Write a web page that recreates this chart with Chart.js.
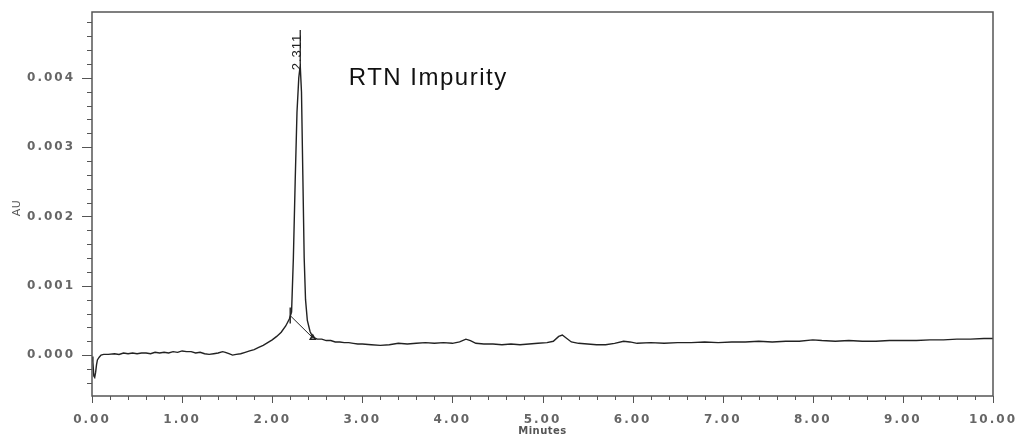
<!DOCTYPE html>
<html>
<head>
<meta charset="utf-8">
<title>RTN Impurity</title>
<script src="https://cdn.jsdelivr.net/npm/chart.js@4/dist/chart.umd.min.js"></script>
<style>
    html, body { margin: 0; padding: 0; background: #ffffff; }
    #wrap { width: 1018px; height: 438px; position: relative; }
</style>
</head>
<body>
<div id="wrap"><canvas id="myChart"></canvas></div>
<script>
const times = [
    0.00, 0.01, 0.02, 0.03, 0.04, 0.05, 0.06, 0.08, 0.10, 0.13, 0.18, 0.25, 0.30, 0.35, 0.40, 0.45,
    0.50, 0.55, 0.60, 0.65, 0.70, 0.75, 0.80, 0.85, 0.90, 0.95, 1.00, 1.05, 1.10, 1.15, 1.20, 1.25,
    1.30, 1.35, 1.40, 1.45, 1.48, 1.52, 1.56, 1.60, 1.65, 1.70, 1.75, 1.80, 1.85, 1.90, 1.95, 2.00,
    2.05, 2.10, 2.15, 2.19, 2.215, 2.235, 2.255, 2.275, 2.295, 2.311, 2.325, 2.34, 2.355, 2.37, 2.39, 2.42,
    2.45, 2.50, 2.55, 2.60, 2.65, 2.70, 2.75, 2.80, 2.85, 2.90, 2.95, 3.00, 3.10, 3.20, 3.30, 3.40,
    3.50, 3.60, 3.70, 3.80, 3.90, 4.00, 4.08, 4.15, 4.20, 4.26, 4.35, 4.45, 4.55, 4.65, 4.75, 4.85,
    4.95, 5.05, 5.12, 5.18, 5.22, 5.27, 5.32, 5.40, 5.50, 5.60, 5.70, 5.80, 5.90, 5.97, 6.05, 6.20,
    6.35, 6.50, 6.65, 6.80, 6.95, 7.10, 7.25, 7.40, 7.55, 7.70, 7.85, 8.00, 8.10, 8.25, 8.40, 8.55,
    8.70, 8.85, 9.00, 9.15, 9.30, 9.45, 9.60, 9.75, 9.90, 10.00
];
const au = [
    -0.00002, -0.00010, -0.00030, -0.00032, -0.00025, -0.00014, -0.00007, -0.00003, 0.00000, 0.00001, 0.00001, 0.00002, 0.00001, 0.00003, 0.00002, 0.00003,
    0.00002, 0.00003, 0.00003, 0.00002, 0.00004, 0.00003, 0.00004, 0.00003, 0.00005, 0.00004, 0.00006, 0.00005, 0.00005, 0.00003, 0.00004, 0.00002,
    0.00001, 0.00002, 0.00003, 0.00005, 0.00004, 0.00002, 0.00000, 0.00001, 0.00002, 0.00004, 0.00006, 0.00008, 0.00011, 0.00014, 0.00018, 0.00022,
    0.00027, 0.00033, 0.00042, 0.00052, 0.00062, 0.00140, 0.00250, 0.00350, 0.00400, 0.00418, 0.00380, 0.00260, 0.00140, 0.00080, 0.00050, 0.00034,
    0.00026, 0.00023, 0.00023, 0.00021, 0.00021, 0.00019, 0.00019, 0.00018, 0.00018, 0.00017, 0.00016, 0.00016, 0.00015, 0.00014, 0.00015, 0.00017,
    0.00016, 0.00017, 0.00018, 0.00017, 0.00018, 0.00017, 0.00019, 0.00023, 0.00021, 0.00017, 0.00016, 0.00016, 0.00015, 0.00016, 0.00015, 0.00016,
    0.00017, 0.00018, 0.00020, 0.00027, 0.00029, 0.00024, 0.00019, 0.00017, 0.00016, 0.00015, 0.00015, 0.00017, 0.00020, 0.00019, 0.00017, 0.00018,
    0.00017, 0.00018, 0.00018, 0.00019, 0.00018, 0.00019, 0.00019, 0.00020, 0.00019, 0.00020, 0.00020, 0.00022, 0.00021, 0.00020, 0.00021, 0.00020,
    0.00020, 0.00021, 0.00021, 0.00021, 0.00022, 0.00022, 0.00023, 0.00023, 0.00024, 0.00024
];

// Базовая линия пика (начало и конец интегрирования)
const baseTimes = [2.20, 2.45];
const baseAu = [0.00057, 0.00025];

// Пик и подписи
const peakTime = 2.311;
const peakAu = 0.00418;
const peakLabel = '2.311';
const compoundLabel = 'RTN Impurity';
const xTitle = 'Minutes';
const yTitle = 'AU';

// Подписи осей
const xTickValues = [0, 1, 2, 3, 4, 5, 6, 7, 8, 9, 10];
const yTickValues = [0, 0.001, 0.002, 0.003, 0.004];
const xMin = 0, xMax = 10;
const yMin = -0.00059, yMax = 0.00495;

// Рамка, засечки осей и подписи
const framePlugin = {
    id: 'frame',
    beforeDraw(chart) {
        chart.ctx.letterSpacing = '2px';
    },
    afterDraw(chart) {
        const ctx = chart.ctx;
        const area = chart.chartArea;
        const xs = chart.scales.x;
        const ys = chart.scales.y;
        ctx.save();
        ctx.letterSpacing = '0px';
        ctx.strokeStyle = '#555';
        ctx.lineWidth = 1;
        ctx.beginPath();
        // засечки по Y (наружу, влево)
        for (let i = -2; i <= 24; i++) {
            const v = i * 0.0002;
            if (v < yMin || v > yMax) continue;
            const py = Math.round(ys.getPixelForValue(v)) + 0.5;
            const len = (i % 5 === 0) ? 10 : 5;
            ctx.moveTo(area.left - len, py);
            ctx.lineTo(area.left, py);
        }
        // засечки по X (наружу, вниз)
        for (let i = 0; i <= 50; i++) {
            const px = Math.round(xs.getPixelForValue(i * 0.2)) + 0.5;
            const len = (i % 5 === 0) ? 7 : 4;
            ctx.moveTo(px, area.bottom);
            ctx.lineTo(px, area.bottom + len);
        }
        ctx.stroke();
        ctx.lineWidth = 1.5;
        ctx.strokeRect(area.left, area.top, area.right - area.left, area.bottom - area.top);

        // названия осей
        ctx.fillStyle = '#555';
        ctx.font = 'bold 10px "DejaVu Sans", Verdana, sans-serif';
        ctx.letterSpacing = '0.5px';
        ctx.textAlign = 'center';
        ctx.textBaseline = 'middle';
        ctx.fillText(xTitle, (area.left + area.right) / 2, 431);
        ctx.save();
        ctx.translate(17, (area.top + area.bottom) / 2 + 4);
        ctx.rotate(-Math.PI / 2);
        ctx.font = '11px "DejaVu Sans", Verdana, sans-serif';
        ctx.fillText(yTitle, 0, 0);
        ctx.restore();

        // подпись времени удерживания
        const px = xs.getPixelForValue(peakTime);
        const py = ys.getPixelForValue(peakAu);
        ctx.strokeStyle = '#111';
        ctx.lineWidth = 1.2;
        ctx.beginPath();
        ctx.moveTo(px, area.top + 18);
        ctx.lineTo(px, py);
        ctx.stroke();
        ctx.save();
        ctx.translate(px + 1, py + 5);
        ctx.rotate(-Math.PI / 2);
        ctx.fillStyle = '#222';
        ctx.font = '13px "Liberation Sans", Arial, sans-serif';
        ctx.letterSpacing = '1px';
        ctx.textAlign = 'left';
        ctx.textBaseline = 'alphabetic';
        ctx.fillText(peakLabel, 0, 0);
        ctx.restore();

        // название вещества
        ctx.fillStyle = '#111';
        ctx.font = '24px "Liberation Sans", Arial, sans-serif';
        ctx.letterSpacing = '1.5px';
        ctx.textAlign = 'left';
        ctx.textBaseline = 'alphabetic';
        ctx.fillText(compoundLabel, xs.getPixelForValue(2.85), ys.getPixelForValue(0.0039));
        ctx.restore();
    }
};

function createChart() {
    const ctx = document.getElementById('myChart').getContext('2d');
    const tickFont = { size: 12, weight: 'bold', family: '"DejaVu Sans", Verdana, sans-serif' };

    new Chart(ctx, {
        type: 'line',
        data: {
            datasets: [{
                data: times.map((t, i) => ({ x: t, y: au[i] })),
                borderColor: '#222',
                borderWidth: 1.4,
                pointRadius: 0,
                tension: 0
            }, {
                data: baseTimes.map((t, i) => ({ x: t, y: baseAu[i] })),
                borderColor: '#222',
                borderWidth: 1,
                pointRadius: [8, 3],
                pointStyle: ['line', 'triangle'],
                rotation: [90, 0],
                pointBorderColor: '#222',
                pointBackgroundColor: 'rgba(0,0,0,0)',
                pointBorderWidth: 1.4,
                tension: 0
            }]
        },
        options: {
            responsive: true,
            maintainAspectRatio: false,
            animation: false,
            layout: {
                padding: { top: 12, right: 25, left: 0, bottom: 0 }
            },
            scales: {
                x: {
                    type: 'linear',
                    min: xMin,
                    max: xMax,
                    grid: { display: false },
                    border: { display: false },
                    afterBuildTicks: scale => { scale.ticks = xTickValues.map(v => ({ value: v })); },
                    afterFit: scale => {
                        scale.height = 42;
                        scale.paddingLeft = 0;
                        scale.paddingRight = 0;
                    },
                    ticks: {
                        padding: 9,
                        maxRotation: 0,
                        autoSkip: false,
                        color: '#666',
                        font: tickFont,
                        callback: v => v.toFixed(2)
                    }
                },
                y: {
                    min: yMin,
                    max: yMax,
                    grid: { display: false },
                    border: { display: false },
                    afterBuildTicks: scale => { scale.ticks = yTickValues.map(v => ({ value: v })); },
                    afterFit: scale => {
                        scale.width = 92;
                        scale.paddingTop = 0;
                        scale.paddingBottom = 0;
                    },
                    ticks: {
                        padding: 9,
                        color: '#666',
                        font: tickFont,
                        callback: v => v.toFixed(3)
                    }
                }
            },
            plugins: {
                legend: { display: false },
                tooltip: { enabled: false }
            }
        },
        plugins: [framePlugin]
    });
}

document.addEventListener('DOMContentLoaded', function () {
    createChart();
});
</script>
</body>
</html>
